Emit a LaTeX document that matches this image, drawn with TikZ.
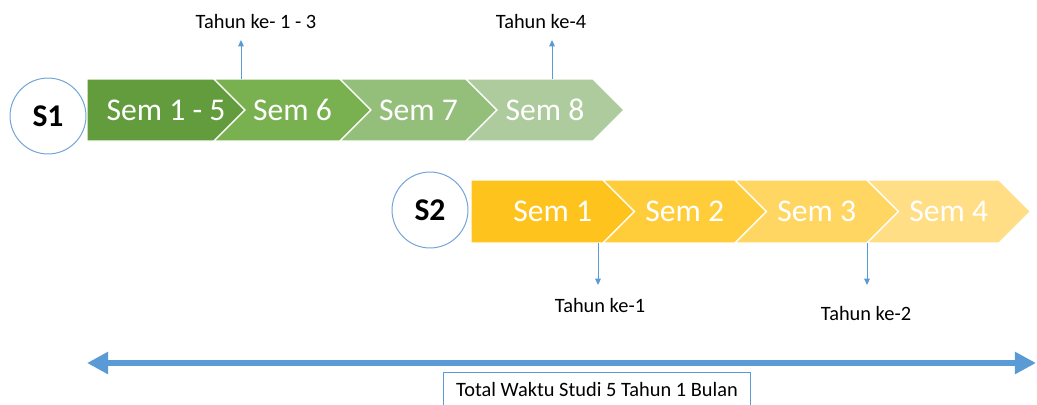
\documentclass[tikz,border=0pt]{standalone}
\usepackage{fontspec}
\setmainfont{Carlito}
\usetikzlibrary{arrows.meta}
\definecolor{gA}{HTML}{639C3C}
\definecolor{gB}{HTML}{79B150}
\definecolor{gC}{HTML}{93BF7A}
\definecolor{gD}{HTML}{ADCB9C}
\definecolor{yA}{HTML}{FFC31D}
\definecolor{yB}{HTML}{FFCD3A}
\definecolor{yC}{HTML}{FFD662}
\definecolor{yD}{HTML}{FFDE85}
\definecolor{lineblue}{HTML}{5B9BD5}
\definecolor{ringblue}{HTML}{70A4DA}
\tikzset{chev/.style={draw=white, line width=0.8pt}}
\tikzset{semtext/.style={text=white, inner sep=0pt, font=\fontsize{22.5}{24}\selectfont}}
\tikzset{level/.style={draw=ringblue, fill=white, circle, line width=0.7pt, minimum size=54pt, inner sep=0pt, font=\bfseries\fontsize{22.5}{24}\selectfont}}
\tikzset{yearlbl/.style={inner sep=0pt, font=\fontsize{14.5}{16}\selectfont}}
\tikzset{tick/.style={draw=lineblue, line width=0.7pt, -{Triangle[length=4.5pt,width=4pt]}}}
\tikzset{span/.style={draw=lineblue, line width=4.3pt, {Triangle[length=15pt,width=15pt]}-{Triangle[length=15pt,width=15pt]}}}
\tikzset{totbox/.style={draw=lineblue, line width=0.7pt, minimum width=219pt, minimum height=24.2pt, inner sep=0pt, font=\fontsize{14.5}{16}\selectfont}}

\begin{document}
\begin{tikzpicture}[x=0.025cm, y=-0.025cm]
    \clip (0,0) rectangle (1037,404);

    \foreach \xl/\xr/\n/\c/\t/\nm in {87/214/0/gA/Sem 1 - 5/a1, 214/340/31/gB/Sem 6/a2, 340/466/31/gC/Sem 7/a3, 466/593/31/gD/Sem 8/a4} {
        \fill[\c, chev] (\xl,79) -- (\xr,79) -- (\xr+31,110) -- (\xr,141) -- (\xl,141) -- (\xl+\n,110) -- cycle;
        \node[semtext] (\nm) at ({(\xl+\xr+31)/2},110) {\t};
    }
    \foreach \xl/\xr/\n/\c/\t/\nm in {471/603/0/yA/Sem 1/b1, 603/735/31.5/yB/Sem 2/b2, 735/867/31.5/yC/Sem 3/b3, 867/999/31.5/yD/Sem 4/b4} {
        \fill[\c, chev] (\xl,180) -- (\xr,180) -- (\xr+31.5,211.5) -- (\xr,243) -- (\xl,243) -- (\xl+\n,211.5) -- cycle;
        \node[semtext] (\nm) at ({(\xl+\xr+31.5)/2},211.5) {\t};
    }

    \node[level] (s1) at (48,116) {S1};
    \node[level] (s2) at (430,210) {S2};

    \node[yearlbl] (t13) at (256,21) {Tahun ke- 1 - 3};
    \node[yearlbl] (t4) at (541,21) {Tahun ke-4};
    \node[yearlbl] (u1) at (600,305) {Tahun ke-1};
    \node[yearlbl] (u2) at (866,313) {Tahun ke-2};

    \coordinate (c13) at (241,79);
    \coordinate (e13) at (241,40);
    \coordinate (c4) at (552,79);
    \coordinate (e4) at (552,40);
    \coordinate (d1) at (598,243);
    \coordinate (f1) at (598,285);
    \coordinate (d2) at (867,243);
    \coordinate (f2) at (867,285);
    \draw[tick] (c13) -- (e13);
    \draw[tick] (c4) -- (e4);
    \draw[tick] (d1) -- (f1);
    \draw[tick] (d2) -- (f2);

    \coordinate (spanL) at (87,363);
    \coordinate (spanR) at (1036,363);
    \draw[span] (spanL) -- (spanR);

    \node[totbox] (tot) at (597,389) {Total Waktu Studi 5 Tahun 1 Bulan};
\end{tikzpicture}
\end{document}
